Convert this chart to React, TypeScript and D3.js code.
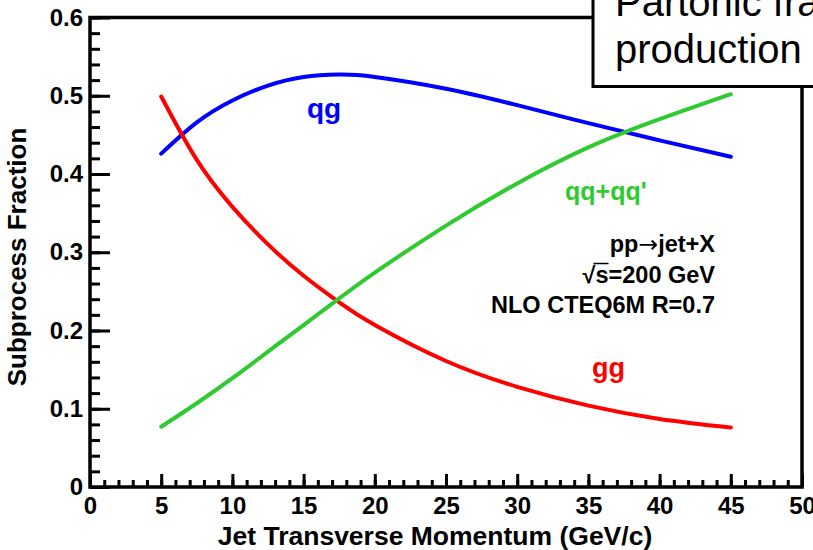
import React, { useEffect, useRef } from "react";
import * as d3 from "d3";

// jet pT points (GeV/c) and the subprocess fractions
const ptValues = [5, 7.5, 10, 12.5, 15, 17.5, 20, 25, 30, 35, 40, 45];
const qgFraction = [0.426, 0.466, 0.494, 0.513, 0.524, 0.527, 0.524, 0.509, 0.488, 0.465, 0.443, 0.422];
const ggFraction = [0.499, 0.418, 0.358, 0.31, 0.27, 0.236, 0.207, 0.161, 0.128, 0.104, 0.087, 0.076];
const qqFraction = [0.077, 0.107, 0.139, 0.173, 0.207, 0.241, 0.274, 0.334, 0.388, 0.434, 0.47, 0.502];

const xMajorTicks = [0, 5, 10, 15, 20, 25, 30, 35, 40, 45, 50];
const yMajorTicks = [0, 0.1, 0.2, 0.3, 0.4, 0.5, 0.6];

const WIDTH = 813;
const HEIGHT = 550;
const FONT = "'Liberation Sans', Arial, Helvetica, sans-serif";

const App = () => {
  const svgRef = useRef(null);

  useEffect(() => {
    document.body.style.margin = "0";
    drawChart();
  }, []);

  const drawChart = () => {
    const svg = d3.select(svgRef.current);
    svg.selectAll("*").remove();

    const x = d3.scaleLinear().domain([0, 50]).range([90, 802]);
    const y = d3.scaleLinear().domain([0, 0.6]).range([487, 17.5]);

    const xMinor = d3.range(0, 51, 1);
    const yMinor = d3.range(0, 0.601, 0.02);

    // minor ticks
    svg
      .append("g")
      .attr("transform", `translate(0, ${y(0)})`)
      .call(d3.axisBottom(x).tickValues(xMinor).tickSize(-7).tickSizeOuter(0).tickFormat(() => ""))
      .call((g) => g.select(".domain").remove())
      .selectAll("line")
      .attr("stroke-width", 3);

    svg
      .append("g")
      .attr("transform", `translate(${x(0)}, 0)`)
      .call(d3.axisLeft(y).tickValues(yMinor).tickSize(-10).tickSizeOuter(0).tickFormat(() => ""))
      .call((g) => g.select(".domain").remove())
      .selectAll("line")
      .attr("stroke-width", 3);

    // major ticks + labels
    const gx = svg
      .append("g")
      .attr("transform", `translate(0, ${y(0)})`)
      .call(d3.axisBottom(x).tickValues(xMajorTicks).tickSize(-13).tickSizeOuter(0).tickPadding(10));
    gx.select(".domain").remove();
    gx.selectAll("line").attr("stroke-width", 3);
    gx.selectAll("text")
      .attr("font-family", FONT)
      .attr("font-size", 24)
      .attr("font-weight", "bold")
      .attr("fill", "#000");

    const gy = svg
      .append("g")
      .attr("transform", `translate(${x(0)}, 0)`)
      .call(
        d3
          .axisLeft(y)
          .tickValues(yMajorTicks)
          .tickSize(-20)
          .tickSizeOuter(0)
          .tickPadding(7)
          .tickFormat((d) => (d === 0 ? "0" : d3.format(".1f")(d)))
      );
    gy.select(".domain").remove();
    gy.selectAll("line").attr("stroke-width", 3);
    gy.selectAll("text")
      .attr("font-family", FONT)
      .attr("font-size", 24)
      .attr("font-weight", "bold")
      .attr("fill", "#000");

    // frame
    svg
      .append("rect")
      .attr("x", x(0))
      .attr("y", y(0.6))
      .attr("width", x(50) - x(0))
      .attr("height", y(0) - y(0.6))
      .attr("fill", "none")
      .attr("stroke", "#000")
      .attr("stroke-width", 3.5);

    // curves
    const line = d3
      .line()
      .x((d) => x(d[0]))
      .y((d) => y(d[1]))
      .curve(d3.curveNatural);

    const series = [
      { values: qgFraction, color: "#0000ff" },
      { values: ggFraction, color: "#ff0000" },
      { values: qqFraction, color: "#2fca2f" },
    ];

    series.forEach((s) => {
      svg
        .append("path")
        .datum(ptValues.map((p, i) => [p, s.values[i]]))
        .attr("d", line)
        .attr("fill", "none")
        .attr("stroke", s.color)
        .attr("stroke-width", 4)
        .attr("stroke-linecap", "round");
    });

    // curve labels
    const labels = [
      { text: "qg", color: "#0000ff", x: 307, y: 118, size: 28 },
      { text: "gg", color: "#ff0000", x: 592, y: 377, size: 27 },
      { text: "qq+qq'", color: "#2fca2f", x: 565, y: 200, size: 25 },
    ];
    labels.forEach((l) => {
      svg
        .append("text")
        .attr("x", l.x)
        .attr("y", l.y)
        .attr("font-family", FONT)
        .attr("font-size", l.size)
        .attr("font-weight", "bold")
        .attr("fill", l.color)
        .text(l.text);
    });

    // info text, right aligned
    const infoSize = 23.5;
    const t1 = svg
      .append("text")
      .attr("x", 715)
      .attr("y", 252)
      .attr("text-anchor", "end")
      .attr("font-family", FONT)
      .attr("font-size", infoSize)
      .attr("font-weight", "bold");
    t1.append("tspan").text("pp");
    t1.append("tspan")
      .attr("font-family", "'DejaVu Sans', sans-serif")
      .attr("font-weight", "normal")
      .text("\u2192");
    t1.append("tspan").text("jet+X");

    const t2 = svg
      .append("text")
      .attr("x", 715)
      .attr("y", 282.5)
      .attr("text-anchor", "end")
      .attr("font-family", FONT)
      .attr("font-size", infoSize)
      .attr("font-weight", "bold")
      .text("\u221As=200 GeV");
    const node = t2.node();
    const sqx = node.getStartPositionOfChar(0).x;
    const sqEnd = node.getEndPositionOfChar(0).x;
    const sEnd = node.getEndPositionOfChar(1).x;
    svg
      .append("line")
      .attr("x1", sqx + (sqEnd - sqx) * 0.85)
      .attr("x2", sEnd)
      .attr("y1", 282.5 - 19)
      .attr("y2", 282.5 - 19)
      .attr("stroke", "#000")
      .attr("stroke-width", 1.5);

    svg
      .append("text")
      .attr("x", 715)
      .attr("y", 313)
      .attr("text-anchor", "end")
      .attr("font-family", FONT)
      .attr("font-size", infoSize)
      .attr("font-weight", "bold")
      .text("NLO CTEQ6M R=0.7");

    // axis titles
    svg
      .append("text")
      .attr("x", 435)
      .attr("y", 545)
      .attr("text-anchor", "middle")
      .attr("font-family", FONT)
      .attr("font-size", 26.5)
      .attr("font-weight", "bold")
      .text("Jet Transverse Momentum (GeV/c)");

    svg
      .append("text")
      .attr("transform", "translate(26, 257) rotate(-90)")
      .attr("text-anchor", "middle")
      .attr("font-family", FONT)
      .attr("font-size", 26)
      .attr("font-weight", "bold")
      .text("Subprocess Fraction");

    // overlay title box (cut off by the page edge)
    svg
      .append("rect")
      .attr("x", 593)
      .attr("y", -20)
      .attr("width", 260)
      .attr("height", 106.5)
      .attr("fill", "#fff")
      .attr("stroke", "#000")
      .attr("stroke-width", 3);

    ["Partonic fractions in jet", "production"].forEach((t, i) => {
      svg
        .append("text")
        .attr("x", 615)
        .attr("y", 16 + i * 47)
        .attr("font-family", FONT)
        .attr("font-size", 40)
        .attr("fill", "#000")
        .text(t);
    });
  };

  return (
    <svg
      ref={svgRef}
      width={WIDTH}
      height={HEIGHT}
      style={{ display: "block", background: "#fff" }}
    ></svg>
  );
};

export default App;
